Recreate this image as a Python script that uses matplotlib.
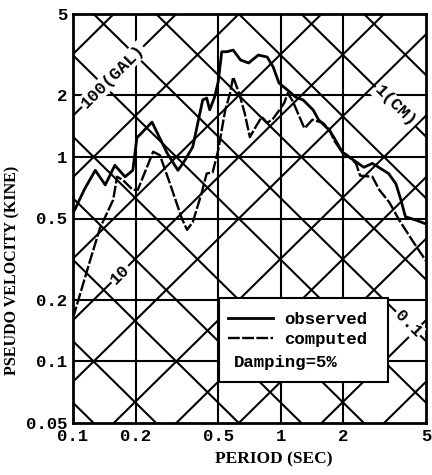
import matplotlib
matplotlib.use('Agg')
import matplotlib.pyplot as plt
from matplotlib.patches import Rectangle
import numpy as np

# response spectra (period in sec, pseudo velocity in kine)
period_obs = [0.100, 0.114, 0.128, 0.143, 0.159, 0.178, 0.194, 0.203, 0.240, 0.283,
              0.320, 0.345, 0.377, 0.421, 0.440, 0.455, 0.480, 0.500, 0.520, 0.550,
              0.590, 0.640, 0.700, 0.780, 0.860, 0.920, 0.980, 1.08, 1.18, 1.28,
              1.43, 1.52, 1.70, 1.79, 1.98, 2.13, 2.36, 2.51, 2.76, 2.96,
              3.30, 3.58, 3.78, 3.98, 4.50, 5.00]
psv_obs = [0.53, 0.70, 0.86, 0.73, 0.91, 0.80, 0.86, 1.24, 1.48, 1.05,
           0.86, 0.96, 1.12, 1.90, 1.94, 1.70, 1.96, 2.33, 3.27, 3.27,
           3.33, 2.98, 2.88, 3.15, 3.08, 2.75, 2.30, 2.12, 1.96, 1.90,
           1.70, 1.52, 1.36, 1.26, 1.05, 1.00, 0.93, 0.89, 0.93, 0.89,
           0.83, 0.74, 0.62, 0.51, 0.49, 0.47]

period_cmp = [0.100, 0.121, 0.135, 0.156, 0.163, 0.174, 0.194, 0.205, 0.243, 0.262,
              0.293, 0.334, 0.354, 0.377, 0.415, 0.440, 0.470, 0.500, 0.540, 0.570,
              0.590, 0.630, 0.670, 0.710, 0.750, 0.810, 0.860, 0.910, 0.970, 1.04,
              1.08, 1.14, 1.23, 1.30, 1.42, 1.59, 1.72, 1.80, 1.97, 2.09,
              2.30, 2.41, 2.76, 2.98, 3.33, 3.72, 4.30, 5.00]
psv_cmp = [0.163, 0.313, 0.45, 0.616, 0.80, 0.77, 0.69, 0.69, 1.06, 1.02,
           0.74, 0.50, 0.44, 0.48, 0.66, 0.83, 0.84, 1.08, 1.69, 2.05,
           2.46, 2.05, 1.64, 1.25, 1.38, 1.57, 1.47, 1.52, 1.66, 1.84,
           2.05, 1.88, 1.57, 1.38, 1.52, 1.47, 1.36, 1.21, 1.06, 1.02,
           0.93, 0.81, 0.80, 0.69, 0.60, 0.49, 0.39, 0.31]

# tripartite grid: constant acceleration (gal) and displacement (cm)
accel_gal = [0.1, 0.2, 0.5, 1, 2, 5, 10, 20, 50, 100, 200, 500]
disp_cm = [0.0005, 0.001, 0.002, 0.005, 0.01, 0.02, 0.05, 0.1, 0.2, 0.5, 1, 2, 5]

xticks = [0.1, 0.2, 0.5, 1, 2, 5]
xtick_labels = ['0.1', '0.2', '0.5', '1', '2', '5']
yticks = [0.05, 0.1, 0.2, 0.5, 1, 2, 5]
ytick_labels = ['0.05', '0.1', '0.2', '0.5', '1', '2', '5']

# (text, kind, value, period where label sits)
diag_labels = [('100(GAL)', 'acc', 100, 0.155),
               ('10', 'acc', 10, 0.168),
               ('1(CM)', 'disp', 1, 3.55),
               ('0.1', 'disp', 0.1, 4.1)]

mono = 'Liberation Mono'
serif = 'Liberation Serif'

fig = plt.figure(figsize=(4.32, 4.75), dpi=100)
ax = fig.add_axes([73 / 432, 1 - 423 / 475, 353 / 432, 409 / 475])
ax.set_xscale('log')
ax.set_yscale('log')
xlim = (0.1, 5)
ylim = (0.05, 5)

T = np.array(xlim)
for a in accel_gal:
    ax.plot(T, a * T / (2 * np.pi), color='black', lw=1.5, zorder=1)
for d in disp_cm:
    ax.plot(T, 2 * np.pi * d / T, color='black', lw=1.5, zorder=1)
for v in xticks[1:-1]:
    ax.axvline(v, color='black', lw=1.5, zorder=1)
for v in yticks[1:-1]:
    ax.axhline(v, color='black', lw=1.5, zorder=1)

for txt, kind, val, t in diag_labels:
    if kind == 'acc':
        sv, rot = val * t / (2 * np.pi), 45
    else:
        sv, rot = 2 * np.pi * val / t, -45
    ax.text(t, sv, txt, rotation=rot, rotation_mode='anchor', ha='center', va='center',
            family=mono, fontweight='bold', fontsize=12.5, zorder=3, clip_on=True,
            bbox=dict(facecolor='white', edgecolor='none', pad=1))

ax.plot(period_obs, psv_obs, color='black', lw=2.0, zorder=4, label='observed')
ax.plot(period_cmp, psv_cmp, color='black', lw=1.7, dashes=(5, 1.0), zorder=4,
        label='computed')

ax.set_xlim(*xlim)
ax.set_ylim(*ylim)
ax.set_xticks(xticks)
ax.set_xticklabels(xtick_labels)
ax.set_yticks(yticks)
ax.set_yticklabels(ytick_labels)
ax.minorticks_off()
ax.tick_params(length=0, pad=4)
for lab in ax.get_xticklabels() + ax.get_yticklabels():
    lab.set_family(mono)
    lab.set_fontweight('bold')
    lab.set_fontsize(12.5)
for s in ax.spines.values():
    s.set_linewidth(2)

ax.set_xlabel('PERIOD (SEC)', family=serif, fontweight='bold', fontsize=12.5, va='center')
ax.xaxis.set_label_coords(0.57, -0.09)
ax.set_ylabel('PSEUDO VELOCITY (KINE)', family=serif, fontweight='bold', fontsize=11.5)
ax.yaxis.set_label_coords(-0.15, 0.374)

# legend box
ax.add_patch(Rectangle((0.414, 0.100), 0.478, 0.206, transform=ax.transAxes,
                       facecolor='white', edgecolor='black', lw=1.5, zorder=5))
leg = ax.legend(loc='upper left', bbox_to_anchor=(0.44, 0.272), frameon=False,
                prop={'family': mono, 'weight': 'bold', 'size': 12.5},
                handlelength=2.6, handletextpad=0.6, borderpad=0, borderaxespad=0,
                labelspacing=0.3)
leg.set_zorder(6)
ax.text(0.456, 0.147, 'Damping=5%', transform=ax.transAxes, ha='left', va='center',
        family=mono, fontweight='bold', fontsize=12.5, zorder=6)

fig.savefig('out.png', dpi=100)
